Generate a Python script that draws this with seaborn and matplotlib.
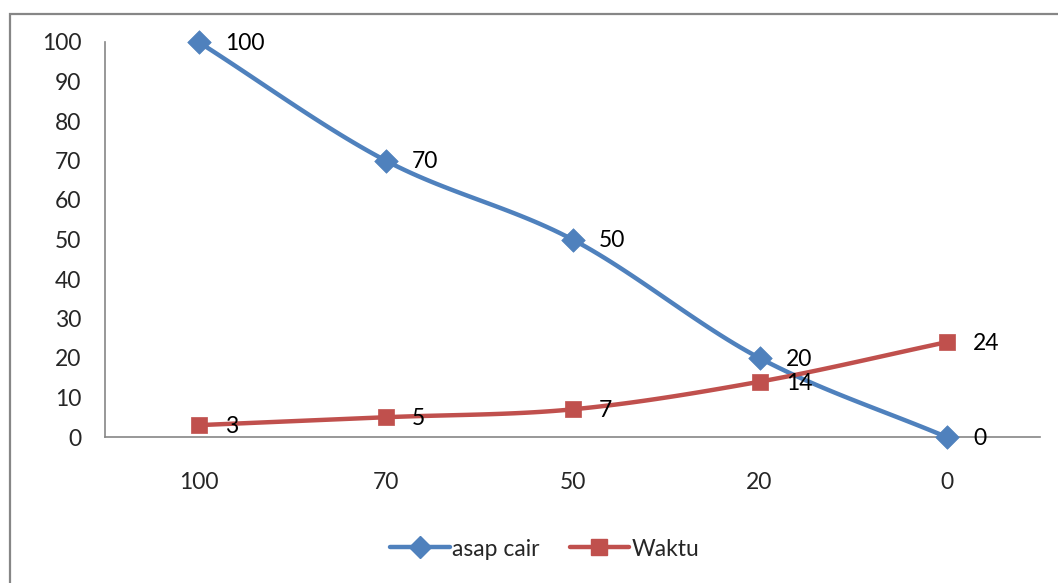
import numpy as np
import pandas as pd
import matplotlib
matplotlib.use("Agg")
import matplotlib.pyplot as plt
import seaborn as sns
from matplotlib.lines import Line2D
from matplotlib.patches import Rectangle

categories = ["100", "70", "50", "20", "0"]
asap_cair = [100, 70, 50, 20, 0]
waktu = [3, 5, 7, 14, 24]

blue = "#4F81BD"
red = "#C0504D"
grey = "#868686"


def smooth(ys, n=30):
    # uniform catmull-rom through the points (similar to excel's smoothed line)
    xs = np.arange(len(ys), dtype=float)
    pts = np.column_stack([xs, np.asarray(ys, dtype=float)])
    pts = np.vstack([2 * pts[0] - pts[1], pts, 2 * pts[-1] - pts[-2]])
    out = []
    for i in range(1, len(pts) - 2):
        p0, p1, p2, p3 = pts[i - 1], pts[i], pts[i + 1], pts[i + 2]
        t = np.linspace(0, 1, n)[:, None]
        seg = 0.5 * ((2 * p1) + (-p0 + p2) * t + (2 * p0 - 5 * p1 + 4 * p2 - p3) * t ** 2
                     + (-p0 + 3 * p1 - 3 * p2 + p3) * t ** 3)
        out.append(seg if i == 1 else seg[1:])
    out = np.vstack(out)
    return pd.DataFrame({"x": out[:, 0], "y": out[:, 1]})


sns.set_style("white")
plt.rcParams["font.family"] = ["Lato", "DejaVu Sans"]
fs = 16.5

fig = plt.figure(figsize=(10.58, 5.83), dpi=100)
ax = fig.add_axes([105 / 1058, 1 - 437 / 583, 935 / 1058, 395 / 583])

pos = np.arange(len(categories))
series = [(asap_cair, blue, "D", 12, "asap cair"), (waktu, red, "s", 12, "Waktu")]
for vals, col, mk, ms, name in series:
    sm = smooth(vals)
    sns.lineplot(data=sm, x="x", y="y", sort=False, color=col, lw=3.2, ax=ax)
    pts = pd.DataFrame({"x": pos, "y": vals})
    sns.scatterplot(data=pts, x="x", y="y", marker=mk, s=ms ** 2, color=col,
                    edgecolor=col, linewidth=0.5, ax=ax, zorder=5, clip_on=False)
    for p, v in zip(pos, vals):
        ax.annotate(str(v), (p, v), xytext=(19, -1), textcoords="offset points",
                    ha="left", va="center", fontsize=fs, color="black")

ax.set_xlim(-0.5, len(categories) - 0.5)
ax.set_ylim(0, 100)
ax.set_xticks(pos)
ax.set_xticklabels(categories)
ax.set_yticks(range(0, 101, 10))
ax.tick_params(axis="y", length=0, pad=17, labelsize=fs)
ax.tick_params(axis="x", length=0, pad=25, labelsize=fs)
ax.set_xlabel("")
ax.set_ylabel("")
for s in ["top", "right"]:
    ax.spines[s].set_visible(False)
for s in ["left", "bottom"]:
    ax.spines[s].set_color(grey)
    ax.spines[s].set_linewidth(1.2)

handles = [Line2D([], [], color=blue, lw=3.2, marker="D", ms=11),
           Line2D([], [], color=red, lw=3.2, marker="s", ms=11)]
fig.legend(handles, ["asap cair", "Waktu"], loc="center", bbox_to_anchor=(0.515, 1 - 549 / 583),
           ncol=2, frameon=False, fontsize=fs, handlelength=2.6, handletextpad=0.1,
           columnspacing=1.3)

fig.patches.append(Rectangle((10 / 1058, -0.1), 1.2, 1.1 - 14 / 583, transform=fig.transFigure,
                             fill=False, edgecolor=grey, lw=1.6))

fig.savefig("out.png", dpi=100)
